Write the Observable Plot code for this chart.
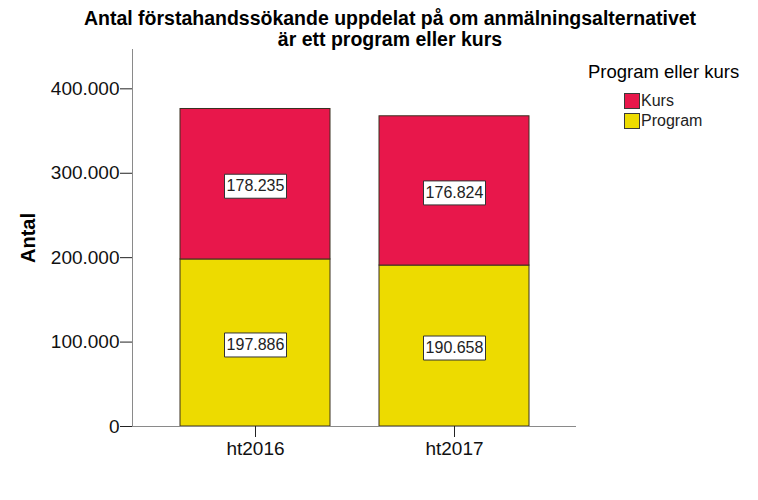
<!DOCTYPE html>
<html>
<head>
<meta charset="utf-8">
<script src="https://cdn.jsdelivr.net/npm/d3@7"></script>
<script src="https://cdn.jsdelivr.net/npm/@observablehq/plot@0.6"></script>
<style>
  html, body { margin: 0; padding: 0; background: #fff; }
  #wrap { position: relative; width: 758px; height: 500px; font-family: "Liberation Sans", Arial, sans-serif; }
  #title { position: absolute; left: 0; width: 780px; top: 8px; text-align: center; font-weight: bold; font-size: 19.5px; line-height: 21px; color: #000; }
  #legend { position: absolute; left: 588px; top: 62px; color: #000; }
  #legend .lt { font-size: 18.5px; line-height: 20px; margin-bottom: 9px; }
  #legend .item { display: flex; align-items: center; height: 20px; margin-left: 36px; font-size: 16px; color: #222; }
  #legend .sw { width: 14px; height: 14px; border: 1px solid #3a3a3a; margin-right: 1px; }
</style>
</head>
<body>
<div id="wrap">
  <div id="chart"></div>
  <div id="title"></div>
  <div id="legend"></div>
</div>
<script>
const titleLines = ["Antal förstahandssökande uppdelat på om anmälningsalternativet", "är ett program eller kurs"];
const yLabel = "Antal";
const legendTitle = "Program eller kurs";
const categories = ["ht2016", "ht2017"];
const types = ["Kurs", "Program"];
const kurs = [178235, 176824];
const program = [197886, 190658];
const colors = ["#E8174B", "#EDDB00"];
const yTicks = [0, 100000, 200000, 300000, 400000];
const yMax = 446600;

const fmt = v => d3.format(",")(v).replace(/,/g, ".");

const data = categories.flatMap((c, i) => [
  {period: c, type: "Program", value: program[i]},
  {period: c, type: "Kurs", value: kurs[i]}
]);
const order = ["Program", "Kurs"];

const boxSymbol = {
  draw(context) { context.rect(-31, -12, 62, 24); }
};

const chart = Plot.plot({
  width: 758,
  height: 500,
  marginTop: 49,
  marginBottom: 74,
  marginLeft: 132,
  marginRight: 182,
  style: {fontFamily: "'Liberation Sans', Arial, sans-serif", fontSize: "19px", color: "#111", background: "white"},
  x: {domain: categories, paddingInner: 0.2475, paddingOuter: 0.234, label: null},
  y: {domain: [0, yMax], label: null},
  color: {domain: types, range: colors},
  marks: [
    Plot.barY(data, Plot.stackY({x: "period", y: "value", z: "type", order, fill: "type", stroke: "#3a3020", strokeWidth: 1})),
    Plot.ruleY([0], {stroke: "#8a8a8a"}),
    Plot.frame({anchor: "left", stroke: "#8a8a8a"}),
    Plot.axisY({ticks: yTicks, tickFormat: fmt, tickSize: 12, tickPadding: 1, fontSize: 19, label: null, stroke: "#222"}),
    Plot.axisX({tickSize: 11, tickPadding: 4, fontSize: 19, label: null, stroke: "#222"}),
    Plot.dot(data, Plot.stackY({x: "period", y: "value", z: "type", order, symbol: boxSymbol, r: 10, fill: "white", stroke: "#333", strokeWidth: 1, dy: 2})),
    Plot.text(data, Plot.stackY({x: "period", y: "value", z: "type", order, text: d => fmt(d.value), fontSize: 16, fill: "#222", dy: 2})),
    Plot.text([yLabel], {frameAnchor: "left", textAnchor: "middle", dx: -104, rotate: -90, fontSize: 20, fontWeight: "bold", fill: "#000"})
  ]
});
document.getElementById("chart").appendChild(chart);

document.getElementById("title").innerHTML = titleLines.map(t => `<div>${t}</div>`).join("");
document.getElementById("legend").innerHTML =
  `<div class="lt">${legendTitle}</div>` +
  types.map((t, i) => `<div class="item"><div class="sw" style="background:${colors[i]}"></div>${t}</div>`).join("");
</script>
</body>
</html>
